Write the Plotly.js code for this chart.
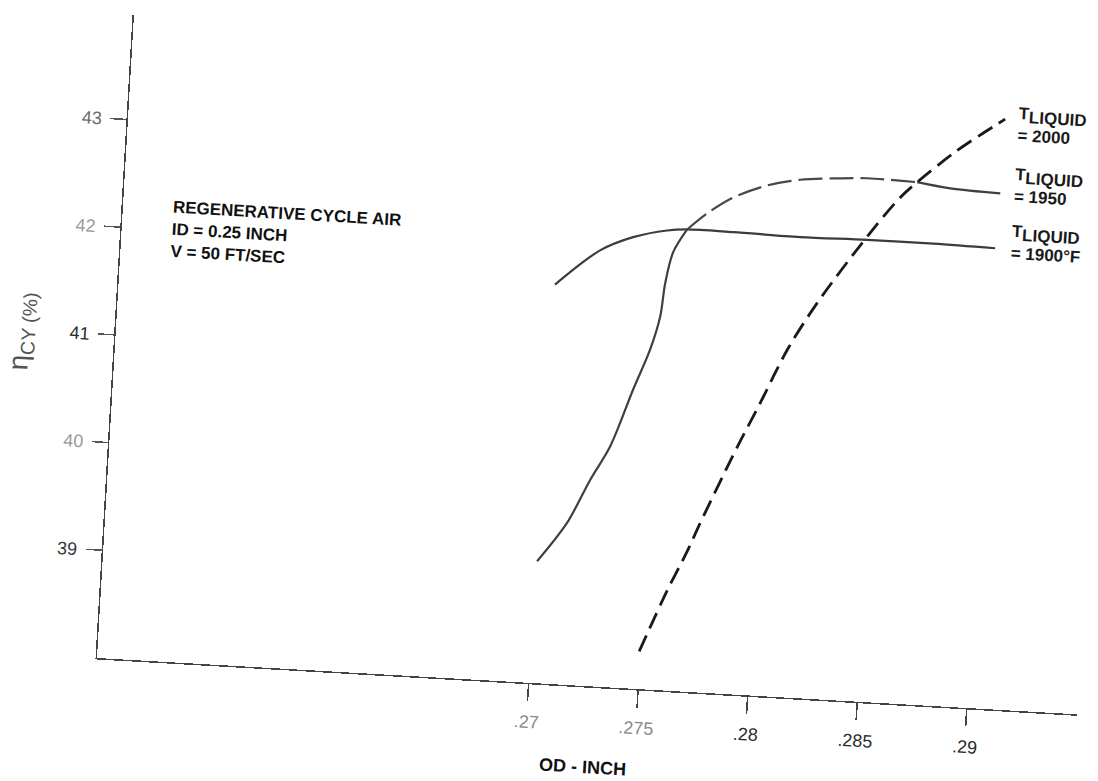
<!DOCTYPE html>
<html>
<head>
<meta charset="utf-8">
<script src="https://cdn.plot.ly/plotly-3.0.1.min.js"></script>
<style>
html, body { margin:0; padding:0; background:#ffffff; overflow:hidden; }
#chart { width:1148px; height:781px; transform: translate(-50px, 0px) rotate(3.29deg); transform-origin: 147px 658px; }
</style>
</head>
<body>
<div id="chart"></div>
<script>
// OD (inch) vs cycle efficiency (%), for three liquid temperatures
const od1900  = [0.27016, 0.27212, 0.27359, 0.27512, 0.27603, 0.27813, 0.28119, 0.28424, 0.28726, 0.29009];
const eta1900 = [41.70, 42.04, 42.18, 42.26, 42.28, 42.28, 42.27, 42.28, 42.28, 42.27];

const od1950  = [0.27007, 0.27133, 0.27227, 0.27309, 0.27399, 0.27466, 0.27503, 0.27517, 0.27545, 0.27603,
                 0.27690, 0.27804, 0.27955, 0.28104, 0.28254, 0.28409, 0.28637, 0.28789, 0.29018];
const eta1950 = [39.13, 39.50, 39.91, 40.23, 40.77, 41.15, 41.46, 41.77, 42.06, 42.28,
                 42.44, 42.60, 42.73, 42.80, 42.83, 42.85, 42.84, 42.80, 42.78];

const od2000  = [0.27495, 0.27607, 0.27687, 0.27739, 0.27887, 0.27980, 0.28090, 0.28214,
                 0.28424, 0.28564, 0.28637, 0.28802, 0.28925, 0.29021];
const eta2000 = [38.35, 38.93, 39.30, 39.57, 40.29, 40.71, 41.22, 41.67,
                 42.31, 42.69, 42.84, 43.14, 43.33, 43.47];

const xTickVals = [0.27, 0.275, 0.28, 0.285, 0.29];
const xTickText = ['.27', '.275', '.28', '.285', '.29'];
const xTickColors = ['#8a8a8a', '#8a8a8a', '#2a2a2a', '#2a2a2a', '#2a2a2a'];
const yTickVals = [39, 40, 41, 42, 43];
const yTickText = ['39', '40', '41', '42', '43'];
const yTickColors = ['#3a3a3a', '#9a9a9a', '#2a2a2a', '#9a9a9a', '#6a6a6a'];

const tempText = ['= 2000', '= 1950', '= 1900°F'];
const labelX = [0.2907, 0.2907, 0.2907];
const labelY = [43.64, 43.07, 42.54];
const noteText = 'REGENERATIVE CYCLE AIR<br>ID = 0.25 INCH<br>V = 50 FT/SEC';

const sp = {shape:'spline', smoothing:0.9};

const traces = [
  {x: od1900, y: eta1900, mode:'lines', name:'1900°F', line:Object.assign({color:'#3c3c3c', width:2.2}, sp)},
  {x: od1950.slice(0,10), y: eta1950.slice(0,10), mode:'lines', name:'1950', line:Object.assign({color:'#404040', width:2.2}, sp)},
  {x: od1950.slice(9,17), y: eta1950.slice(9,17), mode:'lines', name:'1950 ', line:Object.assign({color:'#484848', width:2.2, dash:'24px,7px'}, sp)},
  {x: od1950.slice(16), y: eta1950.slice(16), mode:'lines', name:'1950  ', line:Object.assign({color:'#404040', width:2.2}, sp)},
  {x: od2000, y: eta2000, mode:'lines', name:'2000', line:Object.assign({color:'#1a1a1a', width:2.8, dash:'17px,8px'}, sp)}
];

const annotations = tempText.map((t, i) => ({
  x: labelX[i], y: labelY[i], xref:'x', yref:'y', xanchor:'left', yanchor:'top', align:'left',
  showarrow:false,
  text:'<b>T<sub><span style="font-size:17px">LIQUID</span></sub><br>' + t + '</b>',
  font:{size:17, color:'#1a1a1a'}
}));
annotations.push({
  x: 0.2525, y: 42.32, xref:'x', yref:'y', xanchor:'left', yanchor:'top', align:'left',
  showarrow:false, text: '<b>' + noteText + '</b>', font:{size:17, color:'#111111'}
});

const layout = {
  width:1148, height:781,
  margin:{l:147, r:19, t:14, b:123, pad:0},
  paper_bgcolor:'#ffffff', plot_bgcolor:'#ffffff',
  showlegend:false,
  font:{family:'Liberation Sans, Arial, sans-serif', color:'#222'},
  xaxis:{
    range:[0.2503, 0.29505], tickmode:'array', tickvals:xTickVals,
    ticktext: xTickText.map((t,i)=>'<span style="color:'+xTickColors[i]+'">'+t+'</span>'),
    ticks:'outside', ticklen:17, tickwidth:1.5, tickcolor:'#444', ticklabelstandoff:5,
    showline:true, linecolor:'#444', linewidth:1.5, showgrid:false, zeroline:false,
    tickfont:{size:18, color:'#333'},
    title:{text:'<b>OD - INCH</b>', font:{size:18, color:'#111'}, standoff:26}
  },
  yaxis:{
    range:[38, 43.97], tickmode:'array', tickvals:yTickVals,
    ticktext: yTickText.map((t,i)=>'<span style="color:'+yTickColors[i]+'">'+t+'</span>'),
    ticks:'outside', ticklen:16, tickwidth:1.5, tickcolor:'#555', ticklabelstandoff:5,
    showline:true, linecolor:'#444', linewidth:1.5, showgrid:false, zeroline:false,
    tickfont:{size:18, color:'#333'},
    title:{text:'η<sub>CY (%)</sub>', font:{size:28, color:'#555'}, standoff:31}
  },
  annotations: annotations
};

Plotly.newPlot('chart', traces, layout, {staticPlot:true, displayModeBar:false});
</script>
</body>
</html>
